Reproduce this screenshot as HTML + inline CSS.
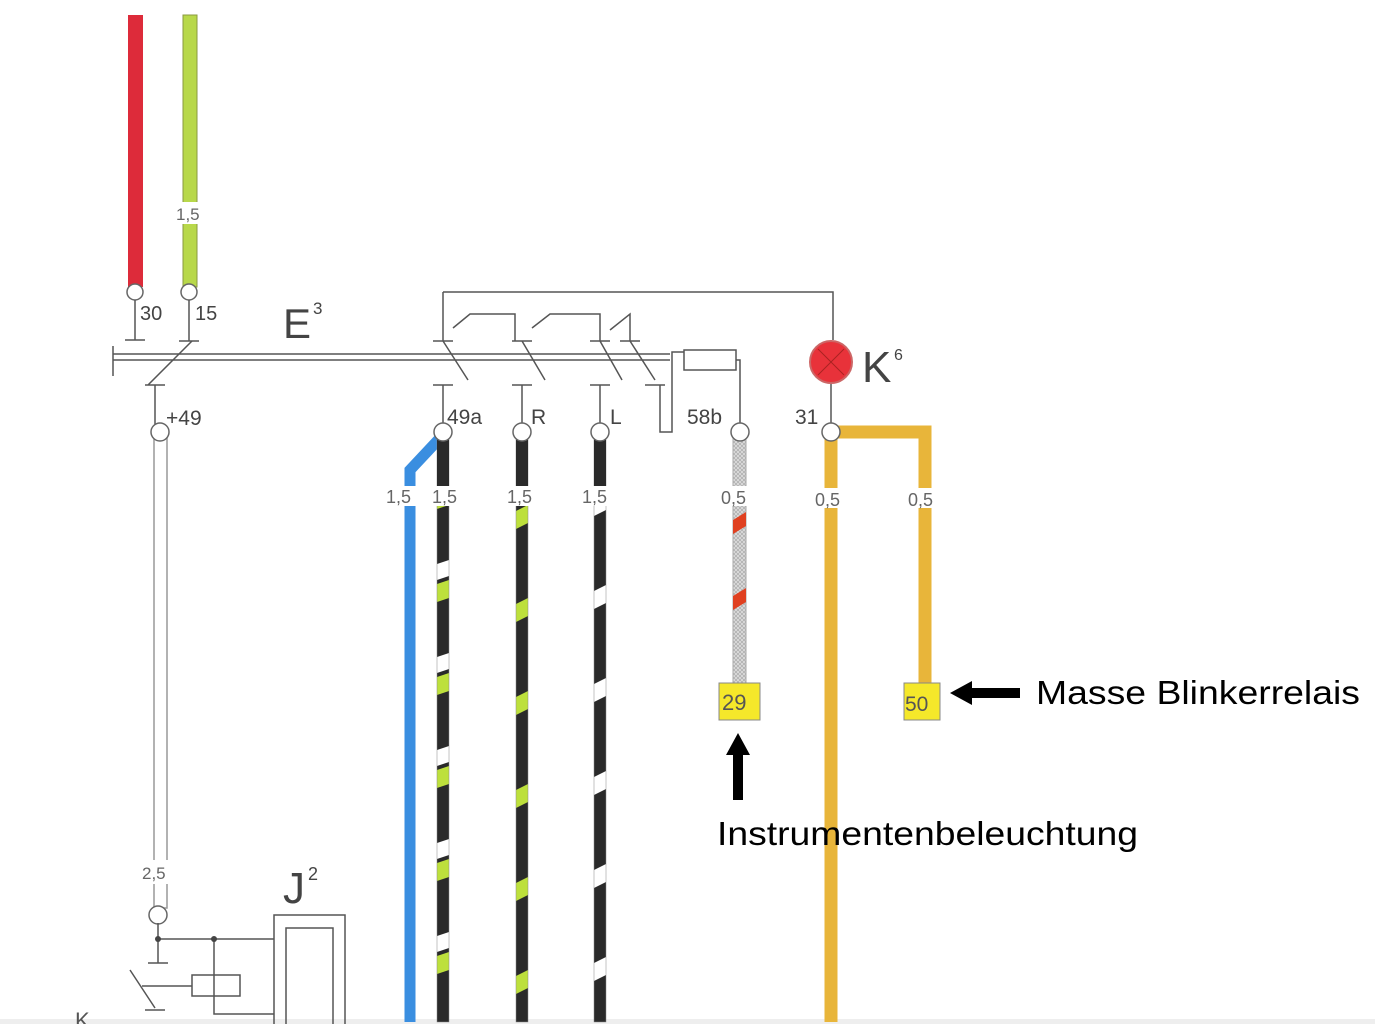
<!DOCTYPE html>
<html><head><style>body{margin:0;background:#fff}svg{display:block}</style></head><body>
<svg width="1375" height="1024" viewBox="0 0 1375 1024" xmlns="http://www.w3.org/2000/svg" font-family="Liberation Sans, sans-serif">
<defs>
<pattern id="bw" x="437" width="12" height="93" patternUnits="userSpaceOnUse" y="560">
<rect width="12" height="93" fill="#2a2a2a"/>
<polygon points="0,4 12,0 12,16 0,20" fill="#fff"/>
<polygon points="0,24 12,20 12,38 0,42" fill="#bde03c"/>
</pattern>
<pattern id="by" x="516" width="12" height="93" patternUnits="userSpaceOnUse" y="505">
<rect width="12" height="93" fill="#2a2a2a"/>
<polygon points="0,6 12,0 12,18 0,24" fill="#bde03c"/>
</pattern>
<pattern id="bwh" x="594" width="12" height="93" patternUnits="userSpaceOnUse" y="585">
<rect width="12" height="93" fill="#2a2a2a"/>
<polygon points="0,6 12,0 12,18 0,24" fill="#fff"/>
</pattern>
<pattern id="hat" width="4" height="4" patternUnits="userSpaceOnUse"><rect width="4" height="4" fill="#ddd"/><path d="M0,0L4,4M4,0L0,4" stroke="#aaa" stroke-width="0.7"/></pattern>
</defs>
<rect width="1375" height="1024" fill="#fff"/>
<rect x="0" y="1019" width="1375" height="5" fill="#eee"/>
<rect x="128" y="15" width="15" height="272" fill="#dd2b3a"/>
<rect x="183" y="15" width="14" height="272" fill="#b8d84a" stroke="#8a9a40" stroke-width="1"/>
<rect x="174" y="202" width="30" height="22" fill="#fff"/>
<text x="176" y="220" font-size="17" fill="#666">1,5</text>
<g fill="#fff" stroke="#666" stroke-width="1.5">
<circle cx="135" cy="292" r="8"/><circle cx="189" cy="292" r="8"/>
</g>
<g stroke="#555" stroke-width="1.5" fill="none">
<path d="M135,300V340M125,340h20M189,300V341M179,341h20"/>
<path d="M113,354H670M113,360H670M113,346V376"/>
<path d="M192,341L148,385M145,385h20M155,385V425"/>
<path d="M443,292H833V340"/>
<path d="M433,341h20M443,292V341M443,341L468,380M433,385h20M443,385V425"/>
<path d="M453,328L470,314H515V341M512,341h20M522,341L545,380M512,385h20M522,385V425"/>
<path d="M532,328L550,314H600V341M590,341h20M600,341L622,380M590,385h20M600,385V425"/>
<path d="M610,330L630,314V341M620,341h20M630,341L655,380M645,385h20"/>
<path d="M660,385V432H672V352H684"/>
<rect x="684" y="350" width="52" height="20" fill="#fff"/>
<path d="M736,360H740V425"/>
<path d="M831,382V425"/>
</g>
<text x="283" y="338" font-size="42" fill="#444">E</text><text x="313" y="314" font-size="17" fill="#444">3</text>
<text x="140" y="320" font-size="20" fill="#444">30</text><text x="195" y="320" font-size="20" fill="#444">15</text>
<text x="166" y="425" font-size="21" fill="#444">+49</text>
<text x="447" y="424" font-size="21" fill="#444">49a</text>
<text x="531" y="424" font-size="21" fill="#444">R</text>
<text x="610" y="424" font-size="21" fill="#444">L</text>
<text x="687" y="424" font-size="21" fill="#444">58b</text>
<text x="795" y="424" font-size="21" fill="#444">31</text>
<circle cx="831" cy="362" r="21" fill="#e8323a" stroke="#c66" stroke-width="2"/>
<path d="M818,349L844,375M844,349L818,375" stroke="#a22" stroke-width="1"/>
<text x="862" y="382" font-size="44" fill="#444">K</text><text x="894" y="360" font-size="16" fill="#444">6</text>
<rect x="154" y="438" width="13" height="470" fill="#fff" stroke="#999" stroke-width="1.5"/>
<rect x="140" y="860" width="40" height="24" fill="#fff"/>
<text x="142" y="879" font-size="17" fill="#666">2,5</text>
<path d="M440,438L410,470V1022" stroke="#3a8ee0" stroke-width="11" fill="none"/>
<rect x="437" y="438" width="12" height="584" fill="url(#bw)" stroke="#888" stroke-width="0.5"/>
<rect x="516" y="438" width="12" height="584" fill="url(#by)" stroke="#888" stroke-width="0.5"/>
<rect x="594" y="438" width="12" height="584" fill="url(#bwh)" stroke="#888" stroke-width="0.5"/>
<rect x="437" y="438" width="12" height="60" fill="#2a2a2a"/>
<rect x="516" y="438" width="12" height="60" fill="#2a2a2a"/>
<rect x="594" y="438" width="12" height="60" fill="#2a2a2a"/>
<rect x="733" y="438" width="13" height="245" fill="url(#hat)" stroke="#aaa"/>
<polygon points="733,520 746,512 746,526 733,534" fill="#e04020"/>
<polygon points="733,596 746,588 746,602 733,610" fill="#e04020"/>
<path d="M831,436V1022" stroke="#e8b53a" stroke-width="13" fill="none"/>
<path d="M836,432H925V685" stroke="#e8b53a" stroke-width="13" fill="none"/>
<g fill="#fff" stroke="#666" stroke-width="1.5">
<circle cx="160" cy="432" r="9"/><circle cx="443" cy="432" r="9"/><circle cx="522" cy="432" r="9"/><circle cx="600" cy="432" r="9"/><circle cx="740" cy="432" r="9"/><circle cx="831" cy="432" r="9"/>
<circle cx="158" cy="915" r="9"/>
</g>
<g font-size="18" fill="#666">
<rect x="383" y="486" width="240" height="20" fill="#fff"/>
<text x="386" y="503">1,5</text><text x="432" y="503">1,5</text><text x="507" y="503">1,5</text><text x="582" y="503">1,5</text>
<rect x="718" y="486" width="44" height="20" fill="#fff"/><text x="721" y="504">0,5</text>
<rect x="812" y="488" width="40" height="20" fill="#fff"/><text x="815" y="506">0,5</text>
<rect x="905" y="488" width="40" height="20" fill="#fff"/><text x="908" y="506">0,5</text>
</g>
<rect x="719" y="683" width="41" height="37" fill="#f5e82a" stroke="#888"/>
<text x="722" y="710" font-size="22" fill="#555">29</text>
<rect x="904" y="683" width="36" height="37" fill="#f5e82a" stroke="#888"/>
<text x="905" y="711" font-size="21" fill="#555">50</text>
<path d="M738,733L750,755H743V800H733V755H726Z" fill="#000"/>
<path d="M950,693L972,681V688H1020V698H972V705Z" fill="#000"/>
<text x="1036" y="704" font-size="33" fill="#000" textLength="324" lengthAdjust="spacingAndGlyphs">Masse Blinkerrelais</text>
<text x="717" y="845" font-size="33" fill="#000" textLength="421" lengthAdjust="spacingAndGlyphs">Instrumentenbeleuchtung</text>
<text x="283" y="903" font-size="44" fill="#444">J</text><text x="308" y="880" font-size="18" fill="#444">2</text>
<g stroke="#555" stroke-width="1.5" fill="none">
<rect x="274" y="915" width="71" height="110"/>
<rect x="286" y="928" width="47" height="100"/>
<path d="M158,923V963M148,963h20M158,939H274M214,939V1014H274"/>
<rect x="192" y="975" width="48" height="21"/>
<path d="M142,986h50M130,970L155,1008M145,1010h20"/>
</g>
<circle cx="158" cy="939" r="3" fill="#444"/><circle cx="214" cy="939" r="3" fill="#444"/>
<text x="75" y="1028" font-size="22" fill="#555">K</text>
</svg>
</body></html>
